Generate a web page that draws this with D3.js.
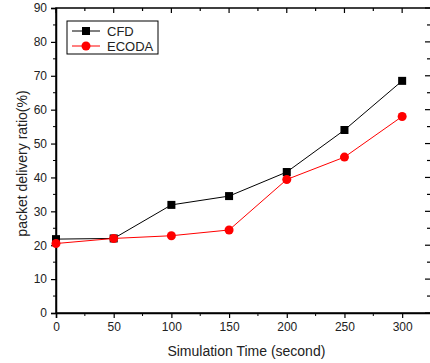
<!DOCTYPE html>
<html>
<head>
<meta charset="utf-8">
<script src="https://cdn.jsdelivr.net/npm/d3@7"></script>
<style>
  body { margin: 0; background: #fff; }
  svg { font-family: "Liberation Sans", Arial, sans-serif; }
  .axis path, .axis line { stroke: #000; }
  .axis text { font-size: 12px; fill: #222; }
</style>
</head>
<body>
<svg id="chart" width="430" height="363"></svg>
<script>
// chart data
const times = [0, 50, 100, 150, 200, 250, 300]
const cfd = [21.8, 22, 31.9, 34.5, 41.6, 54, 68.5]
const ecoda = [20.5, 22, 22.8, 24.5, 39.4, 46, 58]
const xTicks = [0, 50, 100, 150, 200, 250, 300]
const yTicks = [0, 10, 20, 30, 40, 50, 60, 70, 80, 90]

const margin = { top: 8, left: 56, right: -1, bottom: 50 }
const width = 430 - margin.left - margin.right
const height = 363 - margin.top - margin.bottom

const svg = d3.select('#chart')
const g = svg.append('g')
  .attr('transform', `translate(${margin.left},${margin.top})`)

const x = d3.scaleLinear().domain([0, 325]).range([0, width])
const y = d3.scaleLinear().domain([0, 90]).range([height, 0])

// frame
g.append('rect')
  .attr('width', width).attr('height', height)
  .attr('fill', 'none').attr('stroke', '#000').attr('stroke-width', 1.5)

// minor ticks
const xMinor = d3.range(25, 325, 50)
const yMinor = d3.range(5, 90, 10)

// bottom axis
const xAxis = g.append('g')
  .attr('class', 'axis x')
  .attr('transform', `translate(0,${height})`)
  .call(d3.axisBottom(x).tickValues(xTicks).tickSize(5).tickPadding(4))
xAxis.select('.domain').attr('stroke-width', 1.5)
xAxis.selectAll('.tick line').attr('stroke-width', 1.2)
xAxis.selectAll('.minor').data(xMinor).enter().append('line')
  .attr('x1', d => x(d)).attr('x2', d => x(d))
  .attr('y1', 0).attr('y2', 3).attr('stroke', '#000')

// left axis
const yAxis = g.append('g')
  .attr('class', 'axis y')
  .call(d3.axisLeft(y).tickValues(yTicks).tickSize(5).tickPadding(4))
yAxis.select('.domain').attr('stroke-width', 1.5)
yAxis.selectAll('.tick line').attr('stroke-width', 1.2)
yAxis.selectAll('.minor').data(yMinor).enter().append('line')
  .attr('x1', 0).attr('x2', -3)
  .attr('y1', d => y(d)).attr('y2', d => y(d)).attr('stroke', '#000')

// top ticks (inward)
g.append('g').selectAll('line').data(xTicks.concat(xMinor)).enter().append('line')
  .attr('x1', d => x(d)).attr('x2', d => x(d))
  .attr('y1', 0).attr('y2', d => xTicks.includes(d) ? 5 : 3)
  .attr('stroke', '#000').attr('stroke-width', 1.2)

// right ticks (inward)
g.append('g').selectAll('line').data(yTicks.concat(yMinor)).enter().append('line')
  .attr('x1', width).attr('x2', d => width - (yTicks.includes(d) ? 6 : 4))
  .attr('y1', d => y(d)).attr('y2', d => y(d))
  .attr('stroke', '#000').attr('stroke-width', 1.2)

// axis labels
svg.append('text')
  .attr('x', margin.left + x(165)).attr('y', 356)
  .attr('text-anchor', 'middle')
  .style('font-size', '14px').attr('fill', '#222')
  .text('Simulation Time (second)')

svg.append('text')
  .attr('transform', `translate(27,${margin.top + height / 2 + 3}) rotate(-90)`)
  .attr('text-anchor', 'middle')
  .style('font-size', '14px').attr('fill', '#222')
  .text('packet delivery ratio(%)')

// lines
const line = d3.line()
  .x((d, i) => x(times[i]))
  .y(d => y(d))

g.append('path').datum(cfd)
  .attr('d', line).attr('fill', 'none')
  .attr('stroke', '#000').attr('stroke-width', 1)

g.append('path').datum(ecoda)
  .attr('d', line).attr('fill', 'none')
  .attr('stroke', '#f00').attr('stroke-width', 1)

// markers
g.selectAll('.sq').data(cfd).enter().append('rect')
  .attr('x', (d, i) => x(times[i]) - 4)
  .attr('y', d => y(d) - 4)
  .attr('width', 8).attr('height', 8)
  .attr('fill', '#000')

g.selectAll('.dot').data(ecoda).enter().append('circle')
  .attr('cx', (d, i) => x(times[i]))
  .attr('cy', d => y(d))
  .attr('r', 4.5)
  .attr('fill', '#f00')

// legend
const legend = svg.append('g').attr('transform', 'translate(67,21)')
legend.append('rect')
  .attr('width', 91).attr('height', 33)
  .attr('fill', '#fff').attr('stroke', '#000').attr('stroke-width', 1)

const items = [
  { name: 'CFD', color: '#000', shape: 'square' },
  { name: 'ECODA', color: '#f00', shape: 'circle' }
]
items.forEach(function (d, i) {
  const row = legend.append('g').attr('transform', `translate(0,${10 + i * 15})`)
  row.append('line')
    .attr('x1', 5).attr('x2', 33).attr('y1', 0).attr('y2', 0)
    .attr('stroke', d.color).attr('stroke-width', 1)
  if (d.shape === 'square') {
    row.append('rect').attr('x', 15).attr('y', -4).attr('width', 8).attr('height', 8).attr('fill', d.color)
  } else {
    row.append('circle').attr('cx', 19).attr('cy', 0).attr('r', 4.5).attr('fill', d.color)
  }
  row.append('text')
    .attr('x', 40).attr('y', 0).attr('dy', '0.35em')
    .style('font-size', '13px').attr('fill', '#222')
    .text(d.name)
})
</script>
</body>
</html>
